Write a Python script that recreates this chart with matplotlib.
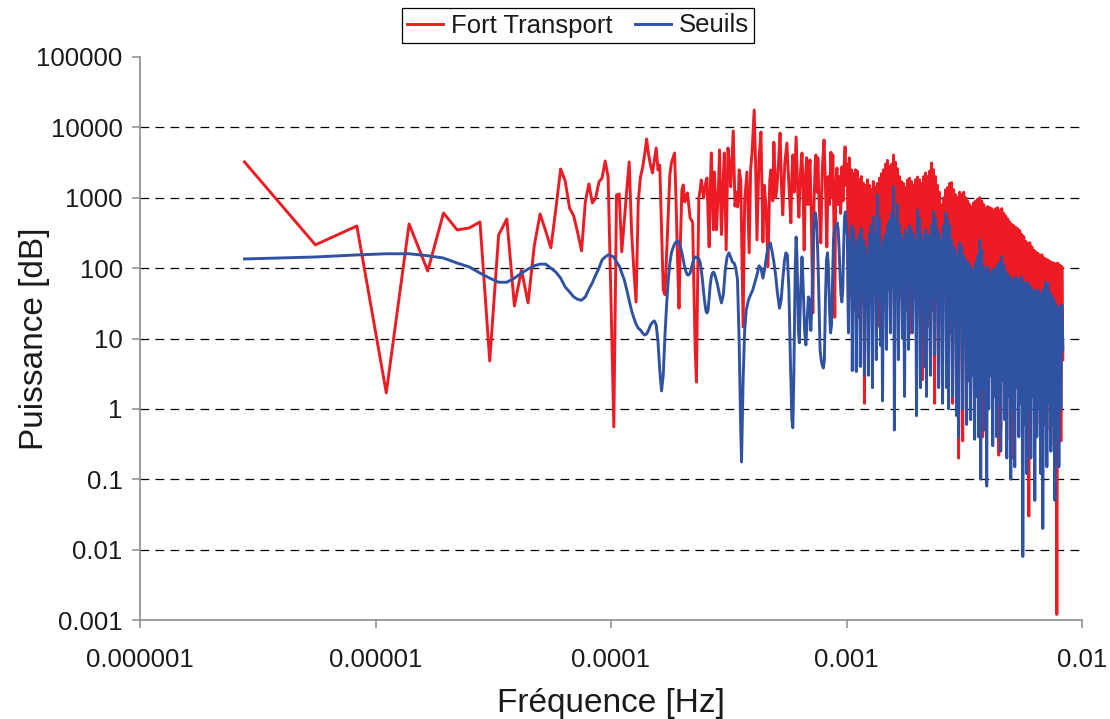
import numpy as np
import matplotlib
matplotlib.use("Agg")
import matplotlib.pyplot as plt
from matplotlib.ticker import FixedLocator, FixedFormatter, NullLocator
from matplotlib.lines import Line2D

plt.rcParams['font.family'] = ['Liberation Sans', 'DejaVu Sans']

# ---------------- data ----------------
DF = 1.0 / 360000.0  # spectral resolution (Hz)

series_names = ["Fort Transport", "Seuils"]

# bins k = 1..100
red_low = [3230, 214, 397, 1.69, 425, 91, 608, 349, 372, 453,
           4.8, 296, 500, 29, 94, 32, 207, 589, 338, 194,
           700, 2560, 1730, 716, 551, 316, 176, 871, 1570, 843,
           993, 1680, 1910, 3330, 1970, 35, 0.555, 1096, 1133, 170,
           484, 1290, 3230, 349, 94, 33, 871, 1970, 2650, 4050,
           6840, 4050, 2900, 2250, 3440, 5100, 2480, 2900, 350, 49,
           42, 154, 516, 2100, 3120, 3700, 4330, 930, 131, 27,
           252, 1290, 1520, 871, 1000, 1170, 790, 516, 484, 440,
           49, 6.9, 2.4, 68, 990, 1290, 1790, 1400, 1000, 1290,
           1680, 1910, 570, 200, 1290, 4330, 1290, 350, 2320, 930]

blue_low = [135, 144, 154, 160, 160, 150, 139, 118, 104, 85,
            72, 63, 63, 72, 85, 97, 108, 114, 114, 100,
            88, 72, 54, 46, 39, 36, 35, 39, 50, 62,
            80, 100, 131, 144, 154, 150, 144, 122, 108, 85,
            68, 49, 35, 25, 19.6, 16, 14, 13.2, 12, 11.2,
            11.6, 13.2, 15.6, 17, 17.8, 15.6, 9, 3.5, 1.8, 3,
            11, 30, 68, 118, 165, 194, 220, 235, 244, 228,
            200, 165, 131, 104, 88, 80, 80, 85, 100, 118,
            135, 144, 144, 139, 135, 122, 94, 68, 46, 33,
            25, 23, 25, 38, 58, 75, 85, 88, 83, 75]

# bins 101..358 (selected bins)
red_mid_k = [101, 103, 104, 106, 108, 109, 111, 113, 115, 116, 119, 121, 123, 124, 125, 126,
             128, 131, 133, 136, 139, 141, 143, 146, 148, 150, 153, 156, 159, 161, 164, 167,
             170, 172, 175, 177, 180, 182, 185, 188, 191, 193, 197, 201, 205, 209, 211, 213,
             216, 220, 223, 226, 230, 233, 236, 238, 241, 244, 247, 250, 252, 255, 259, 262,
             265, 267, 270, 272, 276, 280, 284, 289, 293, 297, 301, 305, 309, 312, 315, 318,
             321, 324, 328, 332, 336, 340, 344, 348, 352, 355, 358]
red_mid_v = [350, 1500, 4780, 300, 2000, 4330, 181, 5100, 2500, 1430, 8900, 760, 1200, 740, 930, 2500,
             1790, 14.6, 900, 2320, 165, 2500, 4430, 17660, 3000, 252, 3500, 8600, 235, 1500, 740, 104,
             1800, 2480, 900, 6150, 1000, 1290, 3000, 8300, 1200, 570, 3120, 6000, 1500, 440, 2000, 4050,
             1200, 7300, 1500, 530, 2500, 4330, 1000, 181, 2000, 3700, 800, 2500, 3440, 600, 23, 800,
             3000, 4050, 1200, 3700, 700, 228, 2500, 6620, 1500, 200, 2000, 800, 4430, 1000, 4050, 500,
             20, 1500, 2650, 800, 2000, 600, 2750, 900, 3000, 5300, 1500]

blue_mid_k = [102, 104, 106, 108, 110, 112, 114, 116, 118, 120, 122, 124, 126, 128, 129, 131,
              133, 135, 138, 141, 144, 147, 150, 153, 156, 159, 162, 165, 168, 171, 174, 177,
              180, 183, 187, 190, 193, 196, 199, 202, 205, 208, 211, 213, 215, 218, 220, 222,
              225, 227, 230, 233, 236, 239, 242, 245, 248, 251, 254, 257, 260, 263, 266, 269,
              272, 275, 278, 281, 284, 287, 290, 293, 296, 299, 302, 305, 308, 311, 314, 317,
              320, 323, 326, 329, 332, 335, 338, 341, 344, 347, 350, 353, 356, 359]
blue_mid_v = [58, 42, 32, 42, 94, 144, 165, 144, 122, 118, 100, 68, 9.5, 0.5, 0.176, 2.6,
              13, 25, 35, 42, 49, 63, 80, 108, 100, 72, 100, 154, 214, 228, 170, 122,
              80, 46, 27, 35, 68, 122, 165, 154, 49, 5, 0.7, 0.54, 2.6, 94, 277, 131,
              13, 8.7, 49, 144, 49, 13, 8.1, 18, 39, 35, 13, 35, 252, 570, 610, 410,
              154, 35, 6.9, 5, 4.2, 3.8, 5, 35, 131, 165, 94, 25, 12, 15.6, 68, 252,
              350, 370, 410, 440, 350, 181, 80, 42, 33, 49, 181, 516, 630, 410]

# dense upper band (bins 363..2986, log-spaced selection of bins)
red_dense = [3000, 13, 3700, 40, 2500, 90, 2200, 25, 2500, 60,
             2400, 20, 1800, 70, 2000, 30, 1600, 1.2, 1500, 50,
             1800, 25, 1500, 80, 1300, 12, 1700, 60, 1400, 30,
             1600, 15, 1900, 70, 2200, 20, 2500, 50, 3000, 35,
             3400, 60, 2800, 18, 3000, 90, 4050, 30, 3200, 50,
             2600, 8, 2000, 40, 1700, 18, 1600, 70, 1400, 25,
             1800, 50, 1900, 12, 1700, 13, 1500, 40, 1800, 20,
             1970, 60, 1800, 30, 1600, 2.6, 2000, 25, 2250, 50,
             2000, 15, 2400, 70, 3120, 25, 2500, 1.2, 2000, 40,
             1500, 2.3, 1200, 50, 790, 15, 1000, 40, 1300, 10,
             1400, 30, 1600, 12, 1640, 1.2, 1300, 40, 1100, 10,
             1000, 0.2, 1200, 20, 1100, 0.35, 1200, 8, 1000, 30,
             900, 5, 800, 25, 740, 12, 850, 2, 900, 30,
             950, 10, 1000, 4, 900, 0.4, 800, 20, 700, 6,
             750, 15, 720, 3, 700, 20, 650, 8, 700, 1.5,
             720, 0.22, 650, 0.5, 700, 10, 600, 4, 550, 0.36,
             500, 15, 450, 5, 420, 0.2, 400, 2, 380, 12,
             360, 3, 340, 10, 300, 1.5, 280, 8, 240, 1,
             225, 0.03, 230, 5, 200, 1.5, 180, 6, 170, 0.6,
             163, 4, 150, 1, 155, 8, 140, 2, 135, 0.5,
             131, 5, 125, 0.3, 120, 3, 118, 1, 115, 0.0012,
             118, 6, 110, 0.35, 105, 5]

blue_dense = [300, 12, 250, 50, 400, 3.5, 350, 40, 200, 3.4,
              250, 60, 300, 4, 370, 45, 250, 3, 200, 70,
              150, 3, 300, 50, 400, 2, 530, 60, 300, 5,
              1100, 40, 500, 8, 200, 1.3, 250, 80, 300, 7,
              400, 50, 480, 12, 600, 60, 1430, 0.5, 500, 40,
              800, 5, 400, 60, 300, 10, 250, 1.5, 350, 50,
              300, 7, 400, 70, 350, 12, 300, 45, 250, 0.8,
              670, 60, 500, 2, 300, 50, 250, 4, 350, 1.5,
              300, 60, 280, 3, 400, 40, 630, 6, 500, 50,
              350, 2, 300, 60, 250, 1.2, 400, 40, 610, 2,
              500, 1, 400, 30, 250, 1.5, 200, 25, 180, 0.8,
              150, 0.4, 228, 20, 200, 1, 150, 25, 130, 0.6,
              122, 2.5, 110, 0.7, 100, 3, 90, 0.37, 120, 1.5,
              150, 0.4, 250, 0.1, 180, 2, 104, 0.5, 90, 0.08,
              104, 1, 90, 3, 80, 0.3, 95, 1.5, 100, 0.4,
              110, 1.2, 120, 0.25, 144, 2.5, 110, 0.7, 90, 0.2,
              80, 1.5, 75, 0.1, 70, 1, 60, 0.15, 75, 2,
              70, 0.4, 65, 1.2, 75, 0.008, 60, 0.6, 62, 0.12,
              62, 1, 55, 0.2, 50, 1.5, 48, 0.05, 45, 0.4,
              49, 1, 45, 0.12, 40, 0.02, 50, 0.6, 63, 0.15,
              60, 1.2, 45, 0.25, 40, 0.6, 35, 0.05, 30, 0.4,
              25, 0.15, 28, 1, 30, 7]

x_ticks = [1e-6, 1e-5, 1e-4, 1e-3, 1e-2]
x_tick_labels = ["0.000001", "0.00001", "0.0001", "0.001", "0.01"]
y_ticks = [1e-3, 1e-2, 1e-1, 1, 10, 100, 1000, 10000, 100000]
y_tick_labels = ["0.001", "0.01", "0.1", "1", "10", "100", "1000", "10000", "100000"]

# ---------------- assemble ----------------
k_low = np.arange(1, len(red_low) + 1)
k_dense = np.round(np.geomspace(363, 2986, len(red_dense))).astype(int)

red_k = np.concatenate([k_low, red_mid_k, k_dense])
red_v = np.concatenate([red_low, red_mid_v, red_dense])
blue_k = np.concatenate([k_low, blue_mid_k, k_dense])
blue_v = np.concatenate([blue_low, blue_mid_v, blue_dense])

RED = "#ED1C24"
BLUE = "#3052A3"
LW = 2.1

fig = plt.figure(figsize=(11.10, 7.19), dpi=100)
ax = fig.add_axes([140/1110, 1 - 620/719, (1082-140)/1110, (620-57)/719])

for yv in y_ticks[1:-1]:
    ax.axhline(yv, color="black", lw=0.9, ls=(0, (7, 5)), zorder=1)

ax.plot(red_k * DF, red_v, color=RED, lw=LW, zorder=3)
ax.plot(blue_k * DF, blue_v, color=BLUE, lw=LW, zorder=4)

ax.set_xscale("log")
ax.set_yscale("log")
ax.set_xlim(1e-6, 1e-2)
ax.set_ylim(1e-3, 1e5)

ax.xaxis.set_major_locator(FixedLocator(x_ticks))
ax.xaxis.set_major_formatter(FixedFormatter(x_tick_labels))
ax.xaxis.set_minor_locator(NullLocator())
ax.yaxis.set_major_locator(FixedLocator(y_ticks))
ax.yaxis.set_major_formatter(FixedFormatter(y_tick_labels))
ax.yaxis.set_minor_locator(NullLocator())

for s in ["top", "right"]:
    ax.spines[s].set_visible(False)
for s in ["left", "bottom"]:
    ax.spines[s].set_color("#8C8C8C")
    ax.spines[s].set_linewidth(1.2)

ax.tick_params(axis="both", which="major", direction="out", length=6, width=1.1,
               color="#8C8C8C", labelsize=18.5, labelcolor="#1a1a1a")
ax.tick_params(axis="y", pad=6.5)
ax.tick_params(axis="x", pad=14)

ax.set_xlabel("Fréquence [Hz]", fontsize=24, color="#1a1a1a", labelpad=12)
ax.set_ylabel("Puissance [dB]", fontsize=24, color="#1a1a1a")
ax.yaxis.set_label_coords((50 - 140) / 942, 0.5)

handles = [Line2D([], [], color=RED, lw=LW), Line2D([], [], color=BLUE, lw=LW)]
leg = fig.legend(handles, series_names, loc="center", bbox_to_anchor=(578/1110, 1 - 25.5/719),
                 ncol=2, fontsize=18.5, frameon=True, fancybox=False, edgecolor="black",
                 framealpha=1, handlelength=1.4, handletextpad=0.3, columnspacing=0.9,
                 borderpad=0.2, borderaxespad=0)
leg.get_frame().set_linewidth(0.9)
for t in leg.get_texts():
    t.set_color("#1a1a1a")

fig.savefig("out.png", dpi=100)
